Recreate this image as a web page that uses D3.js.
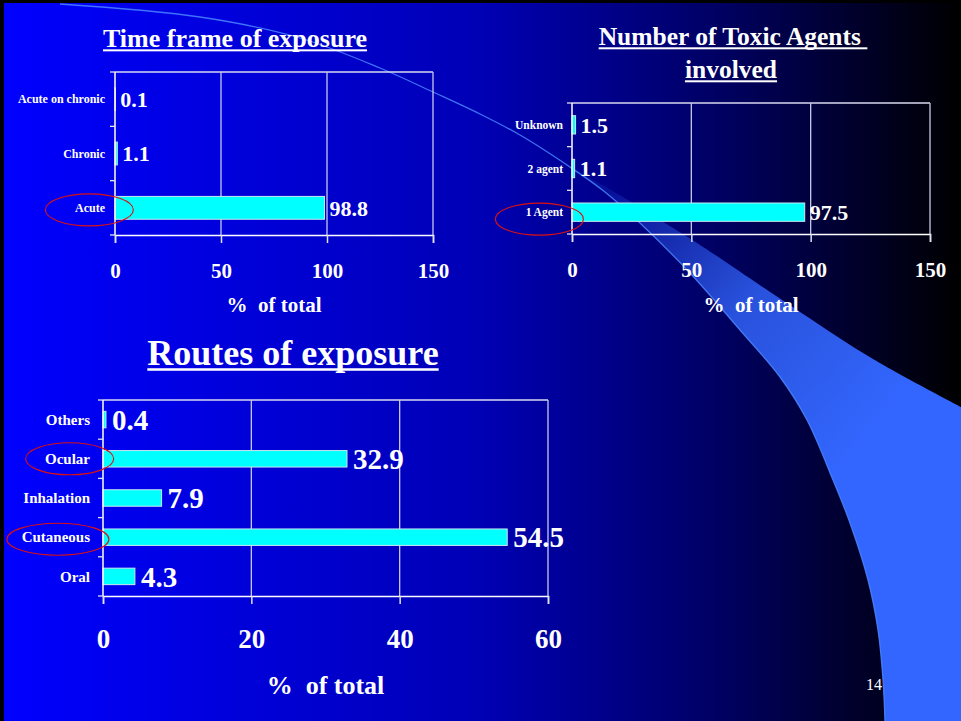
<!DOCTYPE html>
<html>
<head>
<meta charset="utf-8">
<script src="https://cdn.jsdelivr.net/npm/d3@7"></script>
<style>
  html, body { margin: 0; padding: 0; background: #000; }
  svg { display: block; }
  text { font-family: "Liberation Serif", "Times New Roman", serif; fill: #fff; }
</style>
</head>
<body>
<script>
// Poisoning case series: three horizontal bar charts on a slide background.

const timeCategories = ["Acute", "Chronic", "Acute on chronic"];
const timeValues = [98.8, 1.1, 0.1];
const timeTicks = [0, 50, 100, 150];

const agentCategories = ["1 Agent", "2 agent", "Unknown"];
const agentValues = [97.5, 1.1, 1.5];
const agentTicks = [0, 50, 100, 150];

const routeCategories = ["Oral", "Cutaneous", "Inhalation", "Ocular", "Others"];
const routeValues = [4.3, 54.5, 7.9, 32.9, 0.4];
const routeTicks = [0, 20, 40, 60];

const W = 961, H = 721;
const svg = d3.select("body").append("svg").attr("width", W).attr("height", H);
const defs = svg.append("defs");

// slide background: blue fading to black towards the right
const bg = defs.append("linearGradient").attr("id", "bg").attr("x1", 0).attr("x2", 1).attr("y1", 0).attr("y2", 0);
[[0, "#0000ff"], [0.5, "#0000b4"], [0.75, "#000062"], [1, "#000000"]]
  .forEach(([o, c]) => bg.append("stop").attr("offset", o).attr("stop-color", c));

const sw = defs.append("linearGradient").attr("id", "swoosh").attr("gradientUnits", "userSpaceOnUse")
  .attr("x1", 600).attr("y1", 200).attr("x2", 880).attr("y2", 420);
[[0, "#3366ff", 0.15], [0.5, "#3366ff", 0.8], [1, "#3366ff", 1]]
  .forEach(([o, c, a]) => sw.append("stop").attr("offset", o).attr("stop-color", c).attr("stop-opacity", a));

svg.append("rect").attr("width", W).attr("height", H).attr("fill", "#000");
svg.append("rect").attr("x", 4).attr("y", 3).attr("width", W - 4).attr("height", H - 3).attr("fill", "url(#bg)");

// decorative swoosh
const curve = d3.line().curve(d3.curveCatmullRom.alpha(0.5));
const upperEdge = [[570, 167], [623, 197], [660, 220], [697, 243], [800, 312], [873, 359], [961, 407]];
const lowerEdge = [[885, 721], [883, 680], [878, 630], [868, 580], [850, 523], [833, 480], [807, 420],
  [780, 377], [740, 330], [690, 273], [640, 223], [605, 192], [570, 167]];
const bandPath = curve(upperEdge) + "L961,721" + curve(lowerEdge).replace(/^M/, "L") + "Z";
svg.append("path").attr("d", bandPath).attr("fill", "url(#swoosh)");
const thinLine = [[60, 4], [200, 17], [300, 38], [380, 68], [433, 92], [480, 114], [520, 135], [570, 167],
  [605, 192], [640, 223], [690, 273], [740, 330], [780, 377], [807, 420], [833, 480], [850, 523],
  [868, 580], [878, 630], [883, 680], [885, 721]];
svg.append("path").attr("d", curve(thinLine)).attr("fill", "none")
  .attr("stroke", "#4a86ff").attr("stroke-width", 1.3).attr("stroke-opacity", 0.85);

function titleText(x, y, str, size) {
  const t = svg.append("text").attr("x", x).attr("y", y).attr("text-anchor", "middle")
    .attr("font-size", size).attr("font-weight", "bold").style("white-space", "pre").text(str);
  const b = t.node().getBBox();
  svg.append("rect").attr("x", b.x).attr("y", y + size * 0.09).attr("width", b.width)
    .attr("height", Math.max(2, size * 0.07)).attr("fill", "#fff");
}

function barChart(cfg) {
  const g = svg.append("g");
  const x = d3.scaleLinear().domain([0, cfg.ticks[cfg.ticks.length - 1]]).range([cfg.x0, cfg.x1]);
  const y = d3.scaleBand().domain(cfg.categories).range([cfg.y1, cfg.y0]).paddingInner(0.58).paddingOuter(0.29);
  const step = y.step();

  // plot frame and gridlines
  g.append("line").attr("x1", cfg.x0).attr("x2", cfg.x1).attr("y1", cfg.y0).attr("y2", cfg.y0)
    .attr("stroke", "#d8d8f0").attr("stroke-width", 1.3);
  g.selectAll(".grid").data(cfg.ticks.slice(1)).join("line")
    .attr("x1", d => x(d)).attr("x2", d => x(d)).attr("y1", cfg.y0).attr("y2", cfg.y1)
    .attr("stroke", "#c8c8e8").attr("stroke-width", 1.3);

  // bars
  g.selectAll(".bar").data(cfg.values).join("rect")
    .attr("x", x(0)).attr("y", (d, i) => y(cfg.categories[i]))
    .attr("width", d => x(d) - x(0)).attr("height", y.bandwidth())
    .attr("fill", "#00ffff").attr("stroke", "#c8e8f0").attr("stroke-width", 1);

  // value labels
  g.selectAll(".val").data(cfg.values).join("text")
    .attr("x", d => x(d) + cfg.valGap).attr("y", (d, i) => y(cfg.categories[i]) + y.bandwidth() / 2)
    .attr("dy", "0.35em").attr("font-size", cfg.valSize).attr("font-weight", "bold")
    .text(d => d);

  // x axis
  const ax = g.append("g").attr("transform", `translate(0,${cfg.y1})`)
    .call(d3.axisBottom(x).tickValues(cfg.ticks).tickSize(8).tickPadding(cfg.tickPad).tickFormat(d3.format("d")));
  ax.select(".domain").attr("stroke", "#fff").attr("stroke-width", 1.5);
  ax.selectAll(".tick line").attr("stroke", "#e0e0f0").attr("stroke-width", 1.5);
  ax.selectAll(".tick text").attr("fill", "#fff").attr("font-family", "Liberation Serif")
    .attr("font-size", cfg.tickSize).attr("font-weight", "bold");

  // y axis line with ticks at category boundaries
  g.append("line").attr("x1", cfg.x0).attr("x2", cfg.x0).attr("y1", cfg.y0).attr("y2", cfg.y1)
    .attr("stroke", "#fff").attr("stroke-width", 1.5);
  g.selectAll(".ytick").data(d3.range(cfg.categories.length + 1)).join("line")
    .attr("x1", cfg.x0 - 5).attr("x2", cfg.x0).attr("y1", i => cfg.y1 - i * step).attr("y2", i => cfg.y1 - i * step)
    .attr("stroke", "#e0e0f0").attr("stroke-width", 1.3);

  // category labels
  const labels = g.selectAll(".cat").data(cfg.categories).join("text")
    .attr("x", cfg.x0 - cfg.catGap).attr("y", d => y(d) + y.bandwidth() / 2)
    .attr("dy", "0.35em").attr("text-anchor", "end").attr("font-size", cfg.catSize).attr("font-weight", "bold")
    .style("white-space", "pre").text(d => d);

  // red rings around the highlighted categories
  labels.each(function (d) {
    const h = cfg.rings.find(r => r.cat === d);
    if (!h) return;
    const b = this.getBBox();
    g.append("ellipse").attr("cx", b.x + b.width / 2 + h.dx).attr("cy", y(d) + y.bandwidth() / 2 + h.dy)
      .attr("rx", h.rx).attr("ry", h.ry).attr("fill", "none").attr("stroke", "#dd1111").attr("stroke-width", 1.1);
  });

  // axis title
  g.append("text").attr("x", (cfg.x0 + cfg.x1) / 2).attr("y", cfg.axisTitleY).attr("text-anchor", "middle")
    .attr("font-size", cfg.axisTitleSize).attr("font-weight", "bold").style("white-space", "pre").text("%  of total");
}

titleText(235, 47, "Time frame of exposure", 26);
barChart({
  categories: timeCategories, values: timeValues, ticks: timeTicks,
  x0: 115, x1: 433, y0: 72, y1: 235,
  valSize: 22, valGap: 5, tickSize: 21, tickPad: 20, catSize: 12, catGap: 10, axisTitleSize: 21, axisTitleY: 312,
  rings: [{ cat: "Acute", rx: 44, ry: 16, dx: -1, dy: 2 }]
});

titleText(733, 45, "Number of Toxic Agents ", 25.5);
titleText(731, 78, "involved", 25.5);
barChart({
  categories: agentCategories, values: agentValues, ticks: agentTicks,
  x0: 572, x1: 930, y0: 103, y1: 234,
  valSize: 22, valGap: 5, tickSize: 21, tickPad: 20, catSize: 11.5, catGap: 9, axisTitleSize: 21, axisTitleY: 312,
  rings: [{ cat: "1 Agent", rx: 44, ry: 16, dx: -5, dy: 7 }]
});

titleText(293, 365, "Routes of exposure", 36);
barChart({
  categories: routeCategories, values: routeValues, ticks: routeTicks,
  x0: 103, x1: 548, y0: 400, y1: 596,
  valSize: 29, valGap: 6, tickSize: 27, tickPad: 25, catSize: 15, catGap: 13, axisTitleSize: 26, axisTitleY: 694,
  rings: [{ cat: "Ocular", rx: 44, ry: 16, dx: 2, dy: 0 }, { cat: "Cutaneous", rx: 51, ry: 16, dx: 2, dy: 2 }]
});

svg.append("text").attr("x", 882).attr("y", 690).attr("text-anchor", "end").attr("font-size", 16).text("14");
</script>
</body>
</html>
